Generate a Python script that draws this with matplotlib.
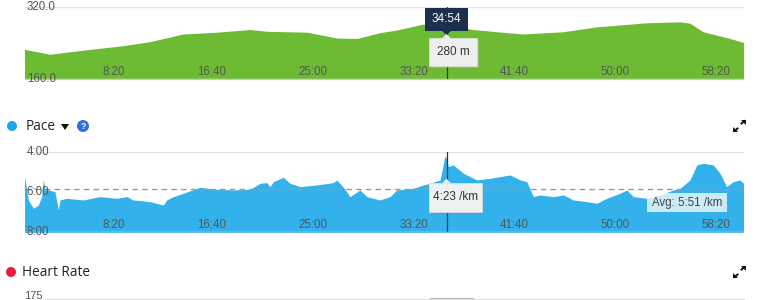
import matplotlib.pyplot as plt
import matplotlib.transforms as mtransforms
from matplotlib.patches import Rectangle, Circle, Polygon
import numpy as np

# ---- data (time in seconds) ----
elev_t = [0, 126, 290, 488, 622, 786, 954, 1118, 1202, 1401, 1549, 1648, 1762,
          1847, 1976, 2095, 2223, 2343, 2471, 2670, 2838, 3086, 3250, 3299,
          3364, 3498, 3565]
elev_m = [226, 215, 224, 234, 243, 260, 264, 270, 266, 264, 251, 250, 263,
          269, 282, 280, 270, 265, 260, 265, 276, 285, 287, 284, 265, 250, 241]

pace_t = [0, 19, 44, 69, 85, 93, 102, 118, 151, 168, 176, 209, 292, 374, 457,
          507, 539, 622, 688, 705, 721, 738, 787, 870, 953, 1035, 1118, 1168,
          1201, 1217, 1234, 1283, 1316, 1366, 1449, 1531, 1548, 1581, 1614,
          1663, 1697, 1762, 1812, 1845, 1928, 1977, 2010, 2060, 2085, 2094,
          2101, 2126, 2176, 2242, 2308, 2357, 2407, 2457, 2490, 2523, 2556,
          2622, 2671, 2721, 2787, 2837, 2886, 2952, 2986, 3018, 3085, 3151,
          3217, 3250, 3299, 3333, 3365, 3415, 3448, 3481, 3514, 3547, 3565]
pace_s = [313, 383, 408, 398, 373, 323, 351, 353, 358, 413, 383, 378, 383, 373,
          378, 373, 383, 388, 398, 383, 378, 373, 363, 345, 351, 353, 351, 333,
          331, 343, 328, 315, 333, 343, 338, 331, 323, 345, 373, 353, 373, 383,
          373, 353, 348, 338, 333, 323, 250, 263, 283, 278, 303, 323, 318, 313,
          308, 323, 328, 373, 368, 373, 368, 383, 388, 393, 378, 363, 353, 373,
          378, 368, 353, 348, 323, 278, 273, 278, 303, 343, 328, 323, 333]
pace_avg = 351
cursor_t = 2094

x_ticks = [500, 1000, 1500, 2000, 2500, 3000, 3500]
x_labels = ["8:20", "16:40", "25:00", "33:20", "41:40", "50:00", "58:20"]
t_max = 3567

W, H = 759, 300
fig = plt.figure(figsize=(W / 100, H / 100), dpi=100)
tick_font = "Liberation Sans"
head_font = "Open Sans"
grey = "#555555"


def px_axes(left, top, right, bottom, **kw):
    return fig.add_axes([left / W, 1 - bottom / H, (right - left) / W, (bottom - top) / H], **kw)


def time_labels(ax, ypos):
    tr = mtransforms.blended_transform_factory(ax.transData, ax.transAxes)
    for t, lab in zip(x_ticks, x_labels):
        ax.text(t, ypos, lab, transform=tr, ha="right", va="center",
                fontsize=8.3, color=grey, family=tick_font)


def clean(ax):
    ax.set_xticks([])
    ax.set_yticks([])
    for s in ax.spines.values():
        s.set_visible(False)
    ax.patch.set_alpha(0)


# ---- elevation ----
ax1 = px_axes(24.5, 7, 744, 79)
ax1.fill_between(elev_t, elev_m, 160, color="#6cbb33", lw=0)
ax1.set_xlim(0, t_max)
ax1.set_ylim(160, 320)
ax1.axhline(320, color="#e3e3e3", lw=1)
ax1.axhline(160, color="#e3e3e3", lw=1)
ax1.axvline(cursor_t, color="#333333", lw=0.9)
clean(ax1)
time_labels(ax1, 0.1)
ax1.text(0.003, 1.0, "320.0", transform=ax1.transAxes, ha="left", va="center",
         fontsize=8.3, color=grey, family=tick_font)
ax1.text(0.004, 0.0, "160.0", transform=ax1.transAxes, ha="left", va="center",
         fontsize=8.3, color=grey, family=tick_font)

# ---- pace ----
ax2 = px_axes(24.5, 152.3, 744, 232.3)
ax2.fill_between(pace_t, pace_s, 480, color="#33b1ea", lw=0)
ax2.set_xlim(0, t_max)
ax2.set_ylim(480, 240)
ax2.axhline(240, color="#e3e3e3", lw=1)
ax2.axhline(480, color="#e3e3e3", lw=1)
ax2.axhline(pace_avg, color="#999999", lw=1, ls=(0, (4, 3)))
ax2.axvline(cursor_t, color="#333333", lw=0.9)
clean(ax2)
time_labels(ax2, 0.09)
for val, lab in [(240, "4:00"), (360, "6:00"), (480, "8:00")]:
    ax2.text(0.003, (480 - val) / 240, lab, transform=ax2.transAxes, ha="left",
             va="center", fontsize=8.3, color=grey, family=tick_font)

# ---- overlay for header / tooltips ----
deco = fig.add_axes([0, 0, 1, 1])
deco.set_xlim(0, W)
deco.set_ylim(H, 0)
deco.axis("off")
deco.patch.set_alpha(0)

# pace avg label
deco.add_patch(Rectangle((647, 193), 80, 19, color="white", alpha=0.75, lw=0))
deco.text(687, 203, "Avg: 5:51 /km", ha="center", va="center", fontsize=8.3,
          color="#444444", family=tick_font)

# elevation tooltip
deco.add_patch(Rectangle((425, 8), 43, 23, color="#1b2f4f", lw=0))
deco.add_patch(Polygon([(442, 31), (451, 31), (446.5, 35)], color="#1b2f4f", lw=0))
deco.text(446.5, 19.5, "34:54", ha="center", va="center", fontsize=8.5,
          color="white", family=tick_font)
deco.add_patch(Rectangle((431, 40), 48, 28, color="#bbbbbb", alpha=0.4, lw=0))
deco.add_patch(Rectangle((429, 38), 48, 28, facecolor="#eef0ef", edgecolor="#dddddd", lw=0.6))
deco.add_patch(Polygon([(442, 38.5), (451, 38.5), (446.5, 34)], color="#eef0ef", lw=0))
deco.text(453, 52, "280 m", ha="center", va="center", fontsize=8.5,
          color="#333333", family=tick_font)

# pace tooltip
deco.add_patch(Rectangle((431, 185), 53, 29, color="#888888", alpha=0.35, lw=0))
deco.add_patch(Rectangle((429, 183), 53, 29, facecolor="#eef1f2", edgecolor="#dddddd", lw=0.6))
deco.add_patch(Polygon([(442, 183.5), (451, 183.5), (446.5, 178.5)], color="#eef1f2", lw=0))
deco.text(455.5, 197.5, "4:23 /km", ha="center", va="center", fontsize=8.5,
          color="#333333", family=tick_font)

# headers
deco.add_patch(Circle((12, 126), 5, color="#1aa7ec", lw=0))
deco.text(26, 126, "Pace", ha="left", va="center", fontsize=9.8, color="#222222",
          family=head_font)
deco.add_patch(Polygon([(61, 124), (69, 124), (65, 130)], color="#111111", lw=0))
deco.add_patch(Circle((83, 126), 6, color="#2e6fd8", lw=0))
deco.text(83, 126.5, "?", ha="center", va="center", fontsize=6.5, color="white",
          weight="bold", family=tick_font)

deco.add_patch(Circle((11, 272), 5, color="#ec1a3f", lw=0))
deco.text(22, 272, "Heart Rate", ha="left", va="center", fontsize=9.8,
          color="#222222", family=head_font)
deco.text(24, 296, "175", ha="left", va="center", fontsize=8, color=grey,
          family=tick_font)
deco.plot([45, 744], [298.5, 298.5], color="#e3e3e3", lw=1)
deco.add_patch(Rectangle((430, 297.5), 43, 3, facecolor="#dfe6ea", edgecolor="#90a0aa", lw=0.6))

# expand icons: two small diagonal arrows
for yc in (126, 272):
    deco.add_patch(Polygon([(741, yc - 6), (746, yc - 6), (746, yc - 1)], color="#111111", lw=0))
    deco.plot([741.5, 744.5], [yc - 2.5, yc - 5], color="#111111", lw=1.4)
    deco.add_patch(Polygon([(733, yc + 6), (738, yc + 6), (733, yc + 1)], color="#111111", lw=0))
    deco.plot([734.5, 737.5], [yc + 5, yc + 2.5], color="#111111", lw=1.4)

fig.savefig("out.png", dpi=100)
